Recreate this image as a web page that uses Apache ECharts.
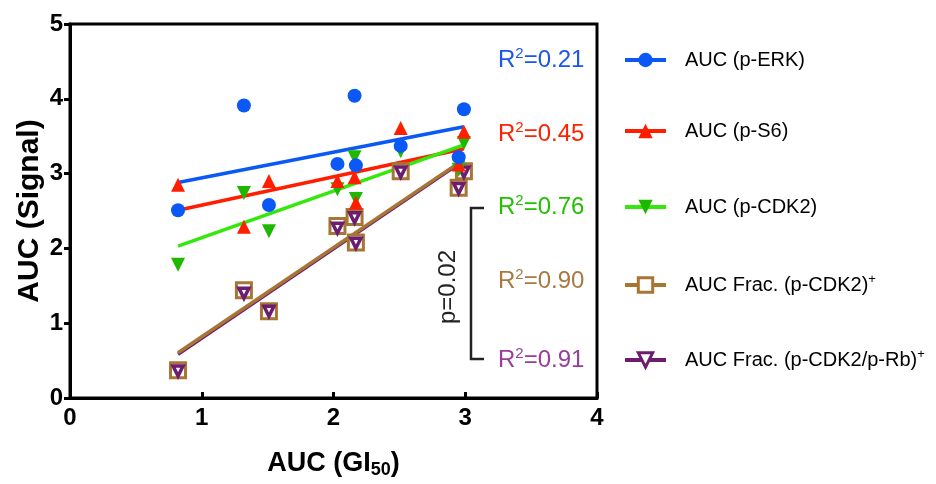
<!DOCTYPE html>
<html>
<head>
<meta charset="utf-8">
<script src="https://cdn.jsdelivr.net/npm/echarts@6/dist/echarts.min.js"></script>
<style>
  html, body { margin: 0; padding: 0; background: #fff; }
  #chart { width: 936px; height: 484px; }
</style>
</head>
<body>
<div id="chart"></div>
<script>
// GI50 area-under-curve for each cell line (shared x values)
const gi50 = [0.82, 1.32, 1.51, 2.03, 2.16, 2.17, 2.51, 2.99, 2.95];

// Signal AUC per cell line, one array per readout
const aucERK = [2.51, 3.91, 2.58, 3.13, 4.04, 3.11, 3.37, 3.86, 3.22];
const aucS6 = [2.85, 2.29, 2.90, 2.90, 2.95, 2.61, 3.61, 3.56, 3.12];
const aucCDK2 = [1.78, 2.74, 2.23, 2.79, 3.22, 2.66, 3.30, 3.41, 3.05];
const fracCDK2 = [0.37, 1.44, 1.16, 2.30, 2.42, 2.08, 3.03, 3.03, 2.81];
const fracCDK2Rb = [0.36, 1.40, 1.16, 2.27, 2.41, 2.07, 3.02, 3.02, 2.80];

const seriesNames = ['AUC (p-ERK)', 'AUC (p-S6)', 'AUC (p-CDK2)', 'AUC Frac. (p-CDK2)', 'AUC Frac. (p-CDK2/p-Rb)'];
const r2Values = ['0.21', '0.45', '0.76', '0.90', '0.91'];

const FONT = '"Liberation Sans", Arial, Helvetica, sans-serif';

// styling for each readout
const styles = [
  { line: '#0a58f5', mark: '#0a58f5', text: '#1a55ee', symbol: 'circle', size: 14, rotate: 0, hollow: false, border: 0, data: aucERK },
  { line: '#ff1e00', mark: '#ff1e00', text: '#ff2200', symbol: 'triangle', size: 14, rotate: 0, hollow: false, border: 0, data: aucS6 },
  { line: '#33e80a', mark: '#1fb800', text: '#22c000', symbol: 'triangle', size: 14, rotate: 180, hollow: false, border: 0, data: aucCDK2 },
  { line: '#a87634', mark: '#a87634', text: '#a67a40', symbol: 'rect', size: 15, rotate: 0, hollow: true, border: 3, data: fracCDK2 },
  { line: '#6c1d6e', mark: '#6c1d6e', text: '#9a3c9a', symbol: 'triangle', size: 10, rotate: 180, hollow: true, border: 3.5, data: fracCDK2Rb }
];

// least-squares line over the observed x range
function fitLine(xs, ys) {
  const n = xs.length;
  const mx = xs.reduce((a, b) => a + b, 0) / n;
  const my = ys.reduce((a, b) => a + b, 0) / n;
  let sxy = 0, sxx = 0;
  for (let i = 0; i < n; i++) {
    sxy += (xs[i] - mx) * (ys[i] - my);
    sxx += (xs[i] - mx) * (xs[i] - mx);
  }
  const b = sxy / sxx;
  const a = my - b * mx;
  const x0 = Math.min(...xs), x1 = Math.max(...xs);
  return [[x0, a + b * x0], [x1, a + b * x1]];
}

const series = [];
// regression lines first (purple under brown)
const lineOrder = [0, 1, 2, 4, 3];
lineOrder.forEach(i => {
  const s = styles[i];
  series.push({
    type: 'line',
    name: seriesNames[i],
    data: fitLine(gi50, s.data),
    showSymbol: false,
    symbol: s.symbol,
    symbolRotate: s.rotate,
    symbolSize: s.size,
    lineStyle: { color: s.line, width: 3.5 },
    itemStyle: { color: s.hollow ? '#fff' : s.mark, borderColor: s.mark, borderWidth: s.border },
    silent: true,
    z: 2
  });
});
// points: squares, then inner triangles, then green, red, blue on top
const pointOrder = [3, 4, 2, 1, 0];
pointOrder.forEach(i => {
  const s = styles[i];
  series.push({
    type: 'scatter',
    name: seriesNames[i],
    data: gi50.map((x, k) => [x, s.data[k]]),
    symbol: s.symbol,
    symbolRotate: s.rotate,
    symbolSize: s.size,
    itemStyle: s.hollow
      ? { color: '#fff', borderColor: s.mark, borderWidth: s.border, opacity: 1 }
      : { color: s.mark, borderWidth: 0, opacity: 1 },
    silent: true,
    z: 3
  });
});

// one legend block per readout, stacked on the right
const legendCenters = [62, 133, 209, 285, 360];
const legends = styles.map((s, i) => ({
  data: [{
    name: seriesNames[i],
    itemStyle: { color: s.hollow ? '#fff' : s.mark, borderColor: s.mark, borderWidth: s.hollow ? 3 : 0 },
    lineStyle: { color: s.line, width: 4 }
  }],
  left: 623,
  top: legendCenters[i] - 12,
  padding: 0,
  itemWidth: 41,
  itemHeight: 18,
  selectedMode: false,
  formatter: name => (i >= 3 ? '{n|' + name + '}{s|+}' : '{n|' + name + '}'),
  textStyle: {
    fontFamily: FONT,
    fontSize: 20,
    color: '#000',
    rich: {
      n: { fontFamily: FONT, fontSize: 20, color: '#000', lineHeight: 24, padding: [0, 0, 0, 14] },
      s: { fontFamily: FONT, fontSize: 13, color: '#000', verticalAlign: 'top', lineHeight: 12 }
    }
  }
}));

// R² annotations inside the plot
const r2Centers = [60, 134, 207, 281, 360];
const graphics = styles.map((s, i) => ({
  type: 'text',
  left: 498,
  top: r2Centers[i] - 14,
  style: {
    text: '{a|R}{b|2}{a|=' + r2Values[i] + '}',
    fill: s.text,
    rich: {
      a: { fontFamily: FONT, fontSize: 24, fill: s.text, color: s.text, lineHeight: 28 },
      b: { fontFamily: FONT, fontSize: 15, fill: s.text, color: s.text, verticalAlign: 'top', lineHeight: 14 }
    }
  },
  z: 10
}));
// bracket grouping the three highest correlations
graphics.push({
  type: 'polyline',
  shape: { points: [[484, 208], [471, 208], [471, 359], [484, 359]] },
  style: { stroke: '#222', lineWidth: 2.5, fill: 'none' },
  z: 10
});
graphics.push({
  type: 'text',
  x: 448,
  y: 287,
  rotation: Math.PI / 2,
  style: {
    text: 'p=0.02',
    fontFamily: FONT,
    fontSize: 24,
    fill: '#222',
    align: 'center',
    verticalAlign: 'middle'
  },
  z: 10
});

const chart = echarts.init(document.getElementById('chart'), null, { renderer: 'canvas' });
chart.setOption({
  animation: false,
  backgroundColor: '#fff',
  grid: { left: 70, right: 339, top: 24, bottom: 86, show: true, borderColor: '#000', borderWidth: 3, backgroundColor: 'transparent' },
  xAxis: {
    type: 'value',
    min: 0, max: 4, interval: 1,
    axisLine: { show: true, onZero: false, lineStyle: { color: '#000', width: 3 } },
    axisTick: { show: true, inside: true, length: 6, lineStyle: { color: '#000', width: 3 } },
    axisLabel: { show: true, fontFamily: FONT, fontSize: 24, fontWeight: 'bold', color: '#000', margin: 8, showMinLabel: true, showMaxLabel: true },
    splitLine: { show: false },
    name: '{t|AUC (GI}{s|50}{t|)}',
    nameLocation: 'middle',
    nameGap: 51,
    nameMoveOverlap: false,
    nameTextStyle: {
      rich: {
        t: { fontFamily: FONT, fontSize: 27, fontWeight: 'bold', color: '#000', lineHeight: 30 },
        s: { fontFamily: FONT, fontSize: 18, fontWeight: 'bold', color: '#000', verticalAlign: 'bottom', lineHeight: 12 }
      }
    }
  },
  yAxis: {
    type: 'value',
    min: 0, max: 5, interval: 1,
    axisLine: { show: true, onZero: false, lineStyle: { color: '#000', width: 3 } },
    axisTick: { show: true, inside: false, length: 6, lineStyle: { color: '#000', width: 3 } },
    axisLabel: { show: true, fontFamily: FONT, fontSize: 24, fontWeight: 'bold', color: '#000', margin: 7, showMinLabel: true, showMaxLabel: true },
    splitLine: { show: false },
    name: 'AUC (Signal)',
    nameLocation: 'middle',
    nameRotate: 90,
    nameGap: 25,
    nameMoveOverlap: false,
    nameTextStyle: { fontFamily: FONT, fontSize: 30, fontWeight: 'bold', color: '#000' }
  },
  legend: legends,
  graphic: graphics,
  series: series
});
</script>
</body>
</html>
